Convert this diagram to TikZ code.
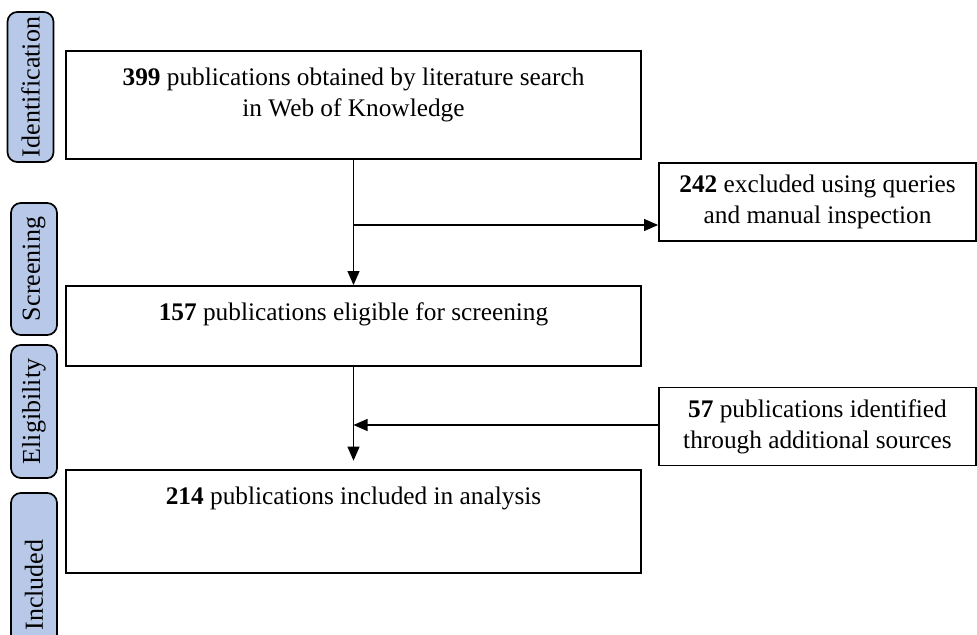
\documentclass[tikz,border=0pt]{standalone}
\usepackage{fontspec}
\setmainfont{Liberation Serif}
\usetikzlibrary{arrows.meta}
\definecolor{stagefill}{RGB}{183,200,232}
\begin{document}
\begin{tikzpicture}[x=0.025cm,y=-0.025cm,
  every node/.style={font=\fontsize{18}{22}\selectfont},
  stage/.style={draw,line width=1.2pt,rounded corners=7pt,fill=stagefill,rotate=90,minimum height=1.15cm,
    inner xsep=1pt,font=\fontsize{18.5}{22}\selectfont},
  mainbox/.style={draw,line width=1.3pt,minimum width=14.375cm},
  sidebox/.style={draw,line width=1.3pt,minimum width=7.925cm,minimum height=1.95cm,align=center},
  flow/.style={line width=0.8pt,-{Triangle[length=0.35cm,width=0.3cm]}}]
\useasboundingbox (0,0) rectangle (977,635);
% stages on the left
\node[stage,minimum width=3.75cm] (ident) at (30.5,87) {Identification};
\node[stage,minimum width=3.3cm] (screen) at (34,269) {Screening};
\node[stage,minimum width=3.325cm] (elig) at (34,411.5) {Eligibility};
\node[stage,minimum width=4.6cm] (incl) at (34,585) {Included};
% main column
\node[mainbox,minimum height=2.7cm] (search) at (353.5,105) {};
\node[anchor=north,align=center] (searchtxt) at ([yshift=-0.32cm]search.north)
  {\textbf{399} publications obtained by literature search\\in Web of Knowledge};
\node[mainbox,minimum height=2cm] (eligible) at (353.5,326) {};
\node[anchor=north] (eligibletxt) at ([yshift=-0.32cm]eligible.north)
  {\textbf{157} publications eligible for screening};
\node[mainbox,minimum height=2.575cm] (analysis) at (353.5,521.5) {};
\node[anchor=north] (analysistxt) at ([yshift=-0.32cm]analysis.north)
  {\textbf{214} publications included in analysis};
% side boxes
\node[sidebox] (excluded) at (817.5,202) {\textbf{242} excluded using queries\\and manual inspection};
\node[sidebox] (additional) at (817.5,426.5) {\textbf{57} publications identified\\through additional sources};
% connectors
\coordinate (exclsplit) at (353.5,225);
\coordinate (addjoin) at (353.5,425);
\draw[flow] (search.south) -- (eligible.north);
\draw[flow] (exclsplit) -- (exclsplit -| excluded.west);
\draw[flow,shorten >=6pt] (eligible.south) -- (analysis.north);
\draw[flow] (addjoin -| additional.west) -- (addjoin);
\end{tikzpicture}
\end{document}
